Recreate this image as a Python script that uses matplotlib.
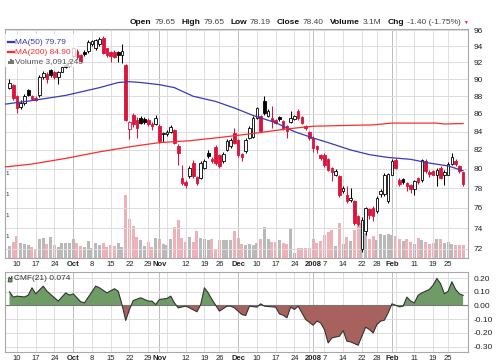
import numpy as np
import pandas as pd
import matplotlib
matplotlib.use('Agg')
import matplotlib.pyplot as plt
import matplotlib.transforms as mtransforms
from matplotlib.patches import Rectangle, Polygon
from matplotlib.ticker import FixedLocator, NullLocator, FuncFormatter

plt.rcParams['font.family'] = ['Liberation Sans', 'DejaVu Sans']

# trading days shown (NYSE holidays removed)
holidays = pd.to_datetime(['2007-11-22', '2007-12-25', '2008-01-01', '2008-01-21', '2008-02-18'])
days = pd.bdate_range('2007-09-06', '2008-02-29')
days = days[~days.isin(holidays)]

# daily prices
opens = [89.0, 89.3, 88.0, 86.8, 87.2, 88.7, 88.0, 87.8, 88.1, 90.2, 90.6, 91.1, 90.9, 90.3, 90.9, 91.7,
         91.6, 92.8, 93.4, 92.9, 93.3, 93.35, 94.2, 93.7, 94.2, 95.0, 93.7, 93.3, 93.3, 93.3, 92.9, 91.7,
         84.3, 85.9, 85.3, 85.5, 85.45, 85.3, 84.9, 84.9, 84.6, 83.7, 83.75, 84.0, 84.2, 82.4, 79.05, 78.65,
         79.2, 80.6, 79.1, 79.05, 80.1, 81.7, 81.0, 82.3, 81.5, 80.8, 82.0, 82.4, 83.9, 83.1, 81.55, 81.9,
         83.3, 83.4, 85.5, 85.7, 87.5, 85.8, 85.5, 85.25, 85.6, 85.2, 84.6, 85.1, 85.4, 86.3, 85.6, 84.6,
         84.0, 83.3, 82.4, 81.5, 81.5, 81.0, 80.1, 79.4, 79.2, 77.7, 77.3, 76.8, 76.7, 75.2, 72.0, 73.7,
         75.9, 76.0, 75.7, 77.4, 77.4, 76.7, 79.4, 80.9, 78.8, 78.9, 78.5, 78.3, 77.9, 79.0, 78.8, 80.8,
         79.7, 79.8, 79.4, 80.1, 79.3, 79.4, 80.5, 80.8, 80.3, 79.65]
highs = [90.0, 89.4, 88.2, 87.6, 88.3, 88.9, 88.2, 88.0, 90.5, 91.0, 90.8, 91.2, 91.0, 91.0, 91.6, 91.8,
         92.4, 93.9, 93.6, 93.0, 93.5, 94.7, 94.8, 94.9, 95.1, 95.3, 93.8, 93.4, 93.5, 93.4, 94.2, 91.8,
         85.2, 86.1, 85.6, 85.7, 85.6, 85.5, 85.1, 85.9, 84.8, 84.0, 84.2, 84.7, 84.3, 82.6, 80.4, 78.8,
         80.3, 80.9, 79.2, 80.8, 81.0, 82.0, 81.2, 82.5, 81.6, 81.8, 83.2, 83.3, 84.4, 83.2, 81.7, 83.3,
         84.6, 85.7, 86.8, 85.9, 88.0, 86.5, 86.9, 85.4, 85.7, 85.3, 84.7, 86.3, 85.9, 86.5, 85.7, 84.7,
         84.1, 83.5, 82.5, 81.6, 81.7, 81.1, 80.2, 80.0, 79.3, 78.2, 78.2, 78.0, 76.8, 75.3, 75.1, 76.1,
         76.0, 76.2, 77.2, 77.9, 79.6, 79.6, 81.0, 81.1, 79.0, 79.0, 78.6, 78.4, 78.8, 79.1, 81.0, 81.0,
         79.9, 79.9, 80.1, 80.3, 79.9, 80.7, 81.7, 81.0, 80.4, 79.65]
lows = [88.8, 87.6, 86.1, 86.5, 87.0, 88.0, 87.6, 87.4, 87.9, 90.0, 89.6, 90.3, 90.0, 89.4, 90.8, 91.3,
        91.4, 92.6, 92.4, 92.0, 92.8, 93.2, 94.0, 93.5, 94.0, 93.0, 92.6, 92.1, 92.5, 92.1, 91.9, 85.2,
        83.2, 84.5, 83.3, 84.8, 84.9, 84.6, 84.2, 84.7, 82.8, 82.9, 83.5, 83.9, 82.6, 80.4, 78.3, 78.0,
        79.0, 79.0, 78.3, 78.9, 80.0, 81.1, 80.6, 80.4, 80.1, 80.6, 81.9, 82.2, 82.6, 81.2, 80.8, 81.7,
        83.2, 83.3, 85.4, 84.0, 85.9, 85.6, 84.4, 84.8, 85.2, 84.2, 83.3, 85.0, 85.3, 85.3, 84.8, 84.2,
        83.1, 81.8, 81.7, 80.9, 80.2, 79.8, 78.7, 79.2, 77.1, 77.5, 76.5, 76.6, 74.3, 74.2, 71.7, 73.3,
        74.9, 74.7, 75.5, 77.1, 77.2, 76.5, 79.3, 80.0, 78.2, 78.4, 77.7, 77.5, 77.3, 78.4, 78.6, 79.6,
        79.1, 79.3, 78.2, 78.9, 78.3, 79.3, 80.4, 80.3, 79.6, 78.19]
closes = [89.6, 87.8, 86.7, 87.2, 88.0, 88.2, 87.7, 87.6, 90.3, 90.7, 90.0, 90.5, 90.3, 90.8, 91.4, 91.5,
          92.2, 93.7, 92.6, 92.2, 93.0, 94.5, 94.6, 94.7, 94.9, 93.2, 92.9, 92.8, 92.7, 92.9, 93.4, 85.3,
          85.1, 84.8, 84.4, 85.0, 85.1, 84.8, 84.6, 85.5, 83.0, 83.85, 83.95, 84.5, 82.8, 81.7, 78.5, 78.35,
          80.1, 79.2, 78.5, 80.6, 80.8, 81.4, 80.8, 80.6, 80.3, 81.6, 83.0, 83.1, 82.8, 81.5, 81.3, 83.1,
          84.4, 85.5, 86.6, 84.1, 86.1, 86.3, 85.2, 85.0, 85.4, 84.4, 84.1, 85.5, 85.7, 85.5, 84.95, 84.4,
          83.3, 82.2, 82.1, 81.1, 80.4, 79.9, 79.7, 79.8, 77.3, 78.0, 76.7, 77.0, 74.5, 74.4, 74.8, 76.0,
          75.3, 75.2, 77.0, 77.7, 79.4, 79.45, 80.8, 80.1, 78.4, 78.6, 78.2, 77.9, 78.7, 78.6, 80.9, 79.8,
          79.5, 79.4, 79.9, 79.0, 79.7, 80.5, 81.3, 80.5, 79.8, 78.40]
volume_m = [2.9, 3.7, 5.2, 3.6, 3.3, 3.0, 2.6, 2.0, 4.5, 4.7, 3.3, 5.1, 3.2, 2.7, 3.5, 3.5,
            3.5, 4.5, 3.5, 2.9, 2.7, 4.1, 2.3, 3.5, 3.1, 3.5, 2.7, 3.1, 2.9, 3.5, 2.7, 15.0,
            9.3, 7.6, 4.9, 4.3, 2.9, 3.8, 2.7, 4.7, 4.5, 3.3, 3.0, 4.5, 7.3, 9.1, 4.8, 3.9,
            5.0, 3.9, 6.5, 4.8, 4.5, 4.4, 4.5, 2.0, 4.3, 4.3, 4.3, 4.2, 6.4, 4.8, 3.4, 3.2,
            3.4, 3.2, 3.6, 4.6, 7.3, 4.6, 3.9, 3.7, 4.3, 3.6, 3.4, 7.0, 1.2, 2.3, 2.3, 2.3,
            2.3, 4.6, 3.6, 4.1, 5.5, 6.1, 6.7, 2.9, 8.3, 3.3, 4.9, 4.1, 6.7, 9.1, 8.3, 6.0,
            4.6, 5.2, 4.3, 5.6, 5.4, 5.8, 5.4, 5.2, 4.6, 4.0, 4.5, 3.7, 3.3, 4.8, 4.4, 3.7,
            3.3, 3.5, 4.5, 4.6, 3.5, 3.7, 3.3, 3.0, 3.0, 3.09]

# moving averages, read at trading-day numbers (0 = 6 Sep 2007)
ma50_day = [-1, 6, 15, 24, 29, 32, 35, 40, 44, 49, 55, 60, 65, 71, 76, 81, 85, 91, 96, 101, 107, 112, 117, 121]
ma50_val = [87.1, 87.5, 88.1, 89.0, 89.6, 89.7, 89.6, 89.35, 89.0, 88.0, 87.4, 86.65, 85.8, 85.0, 84.0,
            83.3, 82.8, 82.0, 81.5, 81.2, 81.0, 80.6, 80.3, 79.79]
ma200_day = [-1, 6, 15, 24, 33, 40, 48, 57, 66, 74, 81, 86, 91, 97, 102, 108, 114, 116, 121]
ma200_val = [80.2, 80.5, 81.1, 81.8, 82.4, 82.8, 83.0, 83.4, 83.85, 84.3, 84.6, 84.65, 84.7, 84.75,
             84.95, 84.95, 84.95, 84.85, 84.9]

# Chaikin money flow
cmf_day = [0, 1, 2, 4, 5, 6, 7, 9, 10, 12, 13, 15, 16, 17, 19, 20, 23, 24, 26, 28, 29, 30, 31, 32, 33,
           35, 37, 38, 39, 40, 42, 43, 44, 45, 47, 48, 50, 51, 52, 53, 54, 56, 58, 59, 60, 62, 63, 64,
           66, 67, 68, 70, 71, 72, 73, 74, 75, 76, 77, 78, 79, 81, 82, 83, 84, 85, 86, 88, 89, 90, 91,
           93, 94, 95, 96, 97, 98, 99, 100, 101, 102, 103, 104, 105, 106, 107, 108, 109, 110, 112, 113,
           114, 115, 116, 117, 118, 119, 120, 121]
cmf_val = [0.100, 0.061, 0.068, 0.062, 0.075, 0.129, 0.085, 0.141, 0.104, 0.056, 0.032, 0.092, 0.075,
           0.085, 0.027, 0.019, 0.141, 0.129, 0.092, 0.122, 0.104, 0.007, -0.109, -0.029, 0.036,
           0.056, 0.032, 0.032, 0.007, 0.044, 0.051, 0.068, 0.019, -0.017, -0.005, -0.017, -0.046,
           0.007, 0.129, 0.092, 0.044, -0.041, -0.005, -0.005, -0.017, -0.066, -0.073, -0.005,
           -0.012, 0.012, -0.005, -0.010, -0.012, -0.061, -0.071, -0.090, -0.012, -0.029, -0.005,
           -0.054, -0.102, -0.144, -0.114, -0.127, -0.175, -0.273, -0.236, -0.224, -0.183, -0.260,
           -0.265, -0.290, -0.224, -0.158, -0.175, -0.200, -0.139, -0.114, -0.107, -0.054, 0.012,
           0.002, -0.010, -0.005, 0.061, 0.032, 0.019, 0.075, 0.092, 0.117, 0.148, 0.197, 0.158,
           0.085, 0.104, 0.173, 0.117, 0.085, 0.074]

tick_dates = ['2007-09-10', '2007-09-17', '2007-09-24', '2007-10-01', '2007-10-08', '2007-10-15',
              '2007-10-22', '2007-10-29', '2007-11-01', '2007-11-12', '2007-11-19', '2007-11-26',
              '2007-12-03', '2007-12-10', '2007-12-17', '2007-12-24', '2008-01-02', '2008-01-07',
              '2008-01-14', '2008-01-22', '2008-01-28', '2008-02-01', '2008-02-11', '2008-02-19',
              '2008-02-25']
tick_labels = ['10', '17', '24', 'Oct', '8', '15', '22', '29', 'Nov', '12', '19', '26', 'Dec', '10',
               '17', '24', '2008', '7', '14', '22', '28', 'Feb', '11', '19', '25']

header_labels = ['Open', 'High', 'Low', 'Close', 'Volume', 'Chg']
header_values = ['79.65', '79.65', '78.19', '78.40', '3.1M', '-1.40 (-1.75%)']

o = np.array(opens); h = np.array(highs); l = np.array(lows); c = np.array(closes)
n = len(c)
x = np.arange(n)
prev = np.r_[o[0], c[:-1]]
up = c >= prev
RED = '#dc143c'
edge = np.where(up, 'black', RED)
face = np.where(c > o, 'white', edge)

W, H = 504, 363
def fx(px):
    return px / W
def fy(py):
    return 1 - py / H

fig = plt.figure(figsize=(W / 100, H / 100), dpi=100)
ax = fig.add_axes([fx(5), fy(258), (468 - 5) / W, (258 - 29) / H])
axv = ax.twinx()
axv.set_zorder(0)
ax.set_zorder(1)
ax.patch.set_visible(False)

# volume underneath
axv.bar(x, volume_m, width=0.8, color=np.where(up, '#b2b2b2', '#eba9b0'), lw=0, alpha=0.9)
axv.set_ylim(0, 54.5)
axv.set_yticks([])
for s in axv.spines.values():
    s.set_visible(False)

# grid
week_start = [i for i in range(1, n) if days[i].weekday() < days[i - 1].weekday()]
month_start = [i for i in range(1, n) if days[i].month != days[i - 1].month]
for i in week_start:
    ax.axvline(i, color='#dedede', lw=0.7, zorder=0)
for i in month_start:
    ax.axvline(i, color='#bdbdbd', lw=0.7, zorder=0)

ax.vlines(x, l, h, colors=edge, lw=0.75, zorder=3)
body = np.maximum(np.abs(c - o), 0.06)
ax.bar(x, body, bottom=np.minimum(o, c), width=0.7, color=face, edgecolor=edge, lw=0.6, zorder=4)

ax.plot(ma50_day, ma50_val, color='#3a3ab2', lw=0.9, zorder=5)
ax.plot(ma200_day, ma200_val, color='#ff2b2b', lw=0.9, zorder=5)

ax.set_yscale('log')
ax.set_ylim(71.15, 96.13)
ax.set_xlim(-1.2, 122.3)
ax.yaxis.tick_right()
ax.yaxis.set_major_locator(FixedLocator(list(range(72, 97, 2))))
ax.yaxis.set_minor_locator(NullLocator())
ax.yaxis.set_major_formatter(FuncFormatter(lambda v, p: f'{v:.0f}'))
ax.grid(axis='y', color='#dcdcdc', lw=0.7, zorder=0)
ax.tick_params(axis='y', length=0, pad=4, labelsize=6, labelcolor='#222222')

tick_pos = [days.get_loc(pd.Timestamp(d)) for d in tick_dates]
ax.set_xticks(tick_pos)
ax.set_xticklabels(tick_labels)
ax.tick_params(axis='x', length=0, pad=2, labelsize=5.5, labelcolor='#222222')
for t in ax.get_xticklabels():
    if len(t.get_text()) > 2:
        t.set_fontweight('bold')
for s in ax.spines.values():
    s.set_color('#a8a8a8')
    s.set_linewidth(0.8)

# cut-off volume labels at the left edge
trans = mtransforms.blended_transform_factory(ax.transAxes, axv.transData)
for v in [5, 10, 15, 20]:
    ax.text(0.001, v, '1', transform=trans, fontsize=4.5, va='center', ha='left', color='#333333')

# legend box
ax.add_patch(Rectangle((0.0, (258 - 67) / 229), 72 / 463, 33 / 229, transform=ax.transAxes,
                       facecolor='white', edgecolor='none', alpha=0.8, zorder=6))
def axp(px, py):
    return (px - 5) / 463, (258 - py) / 229
legend = [('MA(50) 79.79', '#3a3ab2', 42.5), ('MA(200) 84.90', '#ff2b2b', 52.5)]
for txt, col, py in legend:
    x0, y0 = axp(8, py)
    x1, _ = axp(14, py)
    ax.plot([x0, x1], [y0, y0], transform=ax.transAxes, color=col, lw=1.6, zorder=7)
    ax.text(axp(15, py)[0], y0, txt, transform=ax.transAxes, fontsize=6, color=col,
            va='center', ha='left', zorder=7)
for k, hh in enumerate([3, 5, 4]):
    bx, by = axp(8 + k * 2, 64.5)
    ax.add_patch(Rectangle((bx, by), 1.5 / 463, hh / 229, transform=ax.transAxes,
                           facecolor='#777777', zorder=7))
ax.text(axp(15, 62)[0], axp(15, 62)[1], 'Volume 3,091,245', transform=ax.transAxes, fontsize=6,
        color='#555555', va='center', ha='left', zorder=7)

# CMF panel
axc = fig.add_axes([fx(5), fy(352), (468 - 5) / W, (352 - 272) / H])
for i in week_start:
    axc.axvline(i, color='#dedede', lw=0.7, zorder=0)
for i in month_start:
    axc.axvline(i, color='#bdbdbd', lw=0.7, zorder=0)
cd = np.array(cmf_day); cv = np.array(cmf_val)
axc.fill_between(cd, cv, 0, where=cv >= 0, interpolate=True, color='#6f9b66', lw=0, zorder=2)
axc.fill_between(cd, cv, 0, where=cv <= 0, interpolate=True, color='#a8625d', lw=0, zorder=2)
axc.plot(cd, cv, color='#333333', lw=0.8, zorder=3)
axc.axhline(0, color='#777777', lw=0.8, zorder=2.5)
axc.set_xlim(-1.2, 122.3)
axc.set_ylim(-0.339, 0.244)
axc.yaxis.tick_right()
axc.set_yticks([0.2, 0.1, 0.0, -0.1, -0.2, -0.3])
axc.yaxis.set_major_formatter(FuncFormatter(lambda v, p: f'{v:.2f}'))
axc.grid(axis='y', color='#dcdcdc', lw=0.7, zorder=0)
axc.tick_params(axis='y', length=0, pad=4, labelsize=6, labelcolor='#222222')
axc.set_xticks(tick_pos)
axc.set_xticklabels(tick_labels)
axc.tick_params(axis='x', length=0, pad=2, labelsize=5.5, labelcolor='#222222')
for t in axc.get_xticklabels():
    if len(t.get_text()) > 2:
        t.set_fontweight('bold')
for s in axc.spines.values():
    s.set_color('#a8a8a8')
    s.set_linewidth(0.8)
px_trans = mtransforms.Affine2D().scale(1, -1).translate(0, H)
axc.add_patch(Polygon([(8, 282), (9, 277), (10.5, 279), (12, 276), (12, 282)], closed=True,
                      transform=px_trans, facecolor='#6f9b66', edgecolor='#333333', lw=0.5, zorder=7))
fig.text(fx(14), fy(279), 'CMF(21) 0.074', fontsize=6, color='#333333', va='center', ha='left')

# header line, right aligned
r = fig.canvas.get_renderer()
pieces = []
for lab, val in zip(header_labels, header_values):
    pieces.append(fig.text(0, fy(23), lab, fontsize=6, fontweight='bold', color='#111111', va='center'))
    pieces.append(fig.text(0, fy(23), val, fontsize=6, color='#444444', va='center'))
widths = [p.get_window_extent(r).width for p in pieces]
gaps = [3 if k % 2 == 0 else 6 for k in range(len(pieces))]
total = sum(widths) + sum(gaps[:-1])
px = 461 - total
for p, w, g in zip(pieces, widths, gaps):
    p.set_x(fx(px))
    px += w + g
fig.text(fx(px - 4), fy(22), '\u25bc', fontsize=3.5, color=RED, va='center', ha='left')

fig.savefig('out.png', dpi=100)
